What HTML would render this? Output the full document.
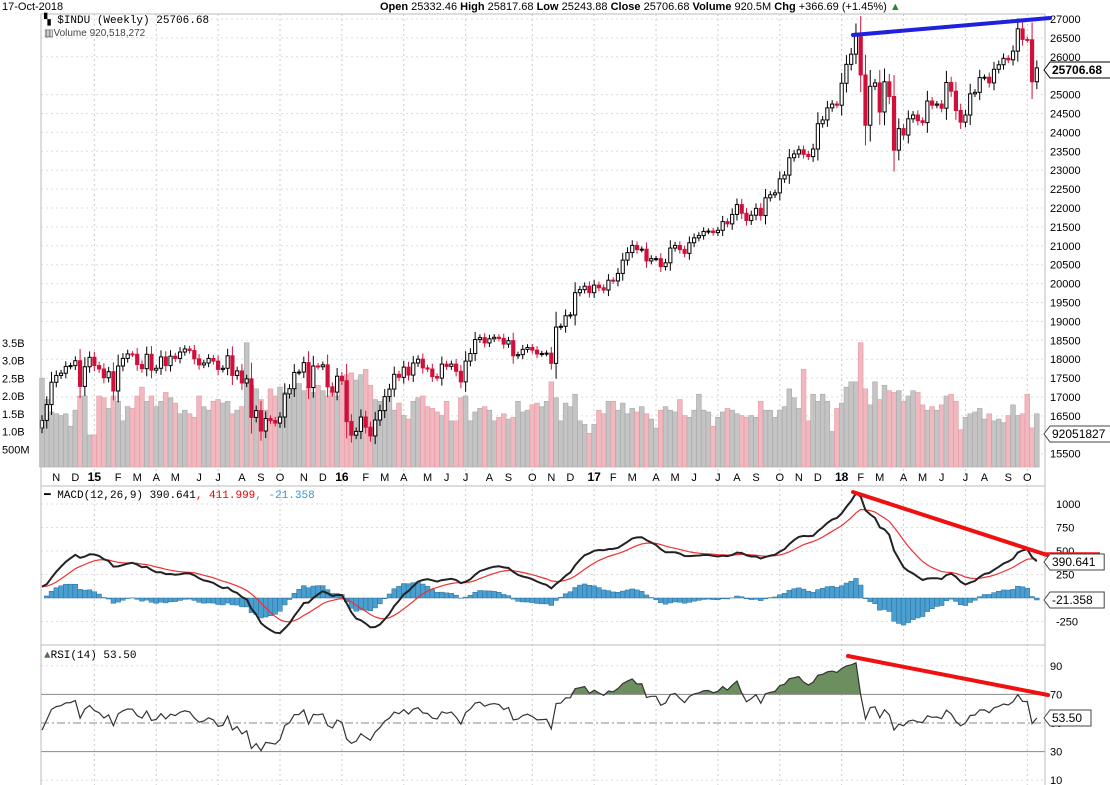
<!DOCTYPE html>
<html><head><meta charset="utf-8"><style>
body{margin:0;background:#fff;}
svg{display:block;font-family:"Liberation Sans",sans-serif;}
</style></head><body>
<svg id="chart" width="1110" height="785" viewBox="0 0 1110 785" xmlns="http://www.w3.org/2000/svg">
<rect x="0" y="0" width="1110" height="785" fill="#fff"/>
<g id="grid"></g>
<g id="vol"></g>
<g id="price"></g>
<g id="macd"></g>
<g id="rsi"></g>
<g id="axes"></g>
<text x="2" y="10" font-size="11" fill="#000">17-Oct-2018</text>
<text x="380" y="10" font-size="11" fill="#000"><tspan font-weight="bold">Open</tspan> 25332.46 <tspan font-weight="bold">High</tspan> 25817.68 <tspan font-weight="bold">Low</tspan> 25243.88 <tspan font-weight="bold">Close</tspan> 25706.68 <tspan font-weight="bold">Volume</tspan> 920.5M <tspan font-weight="bold">Chg</tspan> +366.69 (+1.45%) <tspan fill="#2a8a2a">▲</tspan></text>
<text x="44" y="23" font-size="11" font-family="Liberation Mono,monospace">▚ $INDU (Weekly) 25706.68</text>
<text x="44" y="36" font-size="10" fill="#444">▥Volume 920,518,272</text>
<text x="44" y="498" font-size="11" font-family="Liberation Mono,monospace">━ MACD(12,26,9) 390.641<tspan fill="#e00">, 411.999</tspan><tspan fill="#39c">, -21.358</tspan></text>
<text x="44" y="658" font-size="11" font-family="Liberation Mono,monospace"><tspan fill="#4a7a44">▲</tspan>RSI(14) 53.50</text>
</svg>
<script>
const closes=[16380,16800,17390,17570,17630,17810,17830,17960,17280,17800,18050,17830,17740,17510,17670,17160,17820,18020,18140,18130,17860,17750,18130,17710,17760,18060,17830,18080,18020,18190,18270,18230,18010,17850,17900,18020,17950,17730,17760,18090,17570,17690,17370,17480,16460,16640,16100,16430,16380,16310,16470,17080,17220,17650,17660,17910,17250,17820,17800,17850,17270,17130,17550,17430,16350,15990,16090,16470,16200,15970,16390,16640,17010,17210,17600,17520,17790,17580,17900,18000,17770,17740,17540,17500,17870,17810,17870,17680,17400,17950,18150,18520,18570,18430,18540,18580,18550,18400,18490,18090,18120,18260,18310,18240,18140,18150,18160,17890,18850,18870,19150,19170,19760,19840,19930,19760,19960,19890,19830,20090,20070,20270,20620,20820,21010,20900,20910,20600,20660,20660,20450,20550,20940,21010,20900,20800,21080,21210,21270,21380,21390,21350,21410,21640,21580,21830,22090,21860,21670,21810,21990,21800,22270,22350,22400,22770,22870,23330,23430,23540,23420,23360,23560,24230,24330,24650,24750,24720,25300,25800,26070,26620,25520,24190,25220,25310,24540,25340,24950,23530,24100,23930,24360,24460,24310,24260,24830,24720,24750,24640,25320,25090,24580,24270,24460,25020,25060,25450,25460,25310,25670,25790,25960,25920,26150,26740,26460,26450,25340,25706];
const volumes=[2.5,1.9,1.55,1.5,1.45,1.5,1.15,1.6,2.0,2.0,0.9,0.9,2.0,1.95,1.65,2.0,1.85,1.3,1.7,1.65,2.0,2.25,1.85,2.0,1.7,1.85,2.1,1.95,1.8,1.5,1.6,1.5,1.4,2.0,1.7,1.6,1.85,1.9,1.8,1.85,1.5,1.6,1.7,3.5,2.3,2.2,1.9,1.6,2.2,2.0,2.25,2.1,2.0,2.2,2.35,2.15,2.25,2.1,2.3,2.15,2.0,2.15,2.0,2.5,2.6,2.65,2.45,2.6,2.75,2.3,1.9,1.85,1.9,1.95,1.6,1.8,1.45,1.35,1.85,1.95,2.0,1.7,1.65,1.55,1.45,1.85,1.3,1.3,1.95,2.0,1.3,1.55,1.65,1.7,1.6,1.3,1.4,1.5,1.35,1.4,1.85,1.55,1.6,1.75,1.8,1.7,1.85,2.4,1.95,1.3,1.8,1.7,2.05,1.3,1.2,0.95,1.2,1.6,1.5,1.85,1.85,1.6,1.8,1.5,1.65,1.55,1.7,1.5,1.35,1.1,1.6,1.7,1.6,1.55,1.9,1.45,1.4,1.6,2.05,1.6,1.55,1.15,1.4,1.55,1.65,1.6,1.5,1.45,1.4,1.45,1.4,1.85,1.6,1.6,1.4,1.6,1.7,2.2,1.95,1.65,2.75,1.3,2.05,1.85,2.05,1.85,1.0,1.65,1.8,2.25,2.4,2.4,3.5,2.2,1.75,2.4,1.9,2.3,2.15,2.1,2.15,1.85,2.0,2.15,2.1,1.75,1.6,1.7,1.6,1.75,2.0,2.05,1.85,1.05,1.4,1.5,1.55,1.65,1.35,1.5,1.3,1.35,1.25,1.45,1.75,1.45,1.5,2.05,1.1];
const priceTicks=[27000,26500,26000,25000,24500,24000,23500,23000,22500,22000,21500,21000,20500,20000,19500,19000,18500,18000,17500,17000,16500,16000,15500];
const volTicks=[3.5,3.0,2.5,2.0,1.5,1.0,0.5];
const volTickLabels=["3.5B","3.0B","2.5B","2.0B","1.5B","1.0B","500M"];
const macdTicks=[1000,750,500,250,-250];
const rsiTicks=[90,70,50,30,10];
const monthNames=["J","F","M","A","M","J","J","A","S","O","N","D"];

const NS="http://www.w3.org/2000/svg";
const L=41,R=1045;
const xOf=i=>42+i*4.76;
const yP=p=>19+(27000-p)/500*18.9;
const yV=v=>467-v*35.5;
const yM=m=>598-m*0.094;
const yR=r=>723-(r-50)*1.43;
function mk(tag,attrs,parent){const e=document.createElementNS(NS,tag);for(const k in attrs)e.setAttribute(k,attrs[k]);parent.appendChild(e);return e;}
const grid=document.getElementById('grid'),axes=document.getElementById('axes');
const gV=document.getElementById('vol'),gP=document.getElementById('price'),gM=document.getElementById('macd'),gR=document.getElementById('rsi');

[[14,486],[486,645],[645,786]].forEach(([a,b])=>{const r=mk('rect',{x:L,y:a,width:R-L,height:b-a,fill:'none',stroke:'#bbb','stroke-width':1},axes);});

const start=new Date(2014,9,17);
let prevM=-1;
for(let i=0;i<closes.length;i++){
  const d=new Date(start.getTime()+i*7*864e5);const m=d.getMonth();
  if(m!==prevM&&i>0){
    const x=xOf(i);
    const isJan=m===0;
    const t=mk('text',{x:x,y:481,'font-size':isJan?12:11,'font-weight':isJan?'bold':'normal','text-anchor':'middle',fill:'#000'},axes);
    
    
    t.textContent=isJan?String(d.getFullYear()).slice(2):monthNames[m];
    if(m%3===0){const ln=mk('line',{x1:x,x2:x,y1:14,y2:785,stroke:'#ccc','stroke-dasharray':'2,3'},grid);}
  }
  prevM=m;
}
priceTicks.forEach(p=>{const y=yP(p);
  const ln=mk('line',{x1:L,x2:R,y1:y,y2:y,stroke:'#ddd','stroke-dasharray':'2,3'},grid);
  const t=mk('text',{x:1050,y:y+4,'font-size':11},axes);t.textContent=p;});
volTicks.forEach((v,k)=>{const t=mk('text',{x:2,y:yV(v)+4,'font-size':11},axes);t.textContent=volTickLabels[k];});
macdTicks.forEach(v=>{const y=yM(v);const ln=mk('line',{x1:L,x2:R,y1:y,y2:y,stroke:'#ddd','stroke-dasharray':'2,3'},grid);
  const t=mk('text',{x:1056,y:y+4,'font-size':11},axes);t.textContent=v;});
rsiTicks.forEach(v=>{const y=yR(v);const t=mk('text',{x:1050,y:y+4,'font-size':11},axes);t.textContent=v;
  if(v===90||v===10){const ln=mk('line',{x1:L,x2:R,y1:y,y2:y,stroke:'#ddd','stroke-dasharray':'2,3'},grid);}});

for(let i=0;i<closes.length;i++){
  const c=closes[i],o=i>0?closes[i-1]:c-200;const down=c<o;const x=xOf(i);
  const v=volumes[i]||1.5;
  const vb=mk('rect',{x:x-2.4,y:yV(v),width:4.76,height:467-yV(v),fill:down?'#f2b8bf':'#c4c4c4',stroke:down?'#e39aa4':'#a8a8a8','stroke-width':0.6},gV);
  
  
  const wick=Math.abs(c-o)*0.35+70;
  const hi=Math.max(o,c)+wick,lo=Math.min(o,c)-wick;
  const col=down?'#d0103a':'#000';
  const w=mk('line',{x1:x,x2:x,y1:yP(hi),y2:yP(lo),stroke:col,'stroke-width':1},gP);
  
  
  const top=yP(Math.max(o,c)),bot=yP(Math.min(o,c));
  const b=mk('rect',{x:x-1.6,y:top,width:3.2,height:Math.max(1,bot-top),fill:down?col:'#fff',stroke:col,'stroke-width':1},gP);
  
  
}
function ema(arr,n){const k=2/(n+1);const out=[];let e=arr[0];arr.forEach((v,i)=>{e=i?v*k+e*(1-k):v;out.push(e);});return out;}
const e12=ema(closes,12),e26=ema(closes,26);
const macd=closes.map((c,i)=>e12[i]-e26[i]+120*Math.exp(-i/20));
const sig=ema(macd,9);
for(let i=0;i<closes.length;i++){const h=macd[i]-sig[i];const x=xOf(i);
  const r=mk('rect',{x:x-2.4,y:Math.min(yM(h),yM(0)),width:4.76,height:Math.abs(yM(h)-yM(0)),fill:'#4a9fd0',stroke:'#2a6f9a','stroke-width':0.5},gM);
  
  }
const pathOf=(arr,fy)=>arr.map((v,i)=>(i?'L':'M')+xOf(i).toFixed(1)+','+fy(v).toFixed(1)).join('');
const sl=mk('path',{d:pathOf(sig,yM),fill:'none',stroke:'#f03030','stroke-width':1.2},gM);
const ml=mk('path',{d:pathOf(macd,yM),fill:'none',stroke:'#222','stroke-width':2},gM);
// RSI (Wilder smoothing, seeded)
const rsi=[45];let ag=110,al=130;
for(let i=1;i<closes.length;i++){const d=closes[i]-closes[i-1];const g=Math.max(d,0),l=Math.max(-d,0);
  ag=(ag*13+g)/14;al=(al*13+l)/14;
  rsi.push(100-100/(1+ag/al));}
let fillD='';
for(let i=0;i<rsi.length;i++){fillD+=(i?'L':'M')+xOf(i).toFixed(1)+','+Math.min(yR(rsi[i]),yR(70)).toFixed(1);}
fillD+='L'+xOf(rsi.length-1)+','+yR(70)+'L'+xOf(0)+','+yR(70)+'Z';
const rf=mk('path',{d:fillD,fill:'#6b8f5e',stroke:'none'},gR);
[[70,'none'],[30,'none'],[50,'8,3,2,3']].forEach(([v,da])=>{const ln=mk('line',{x1:L,x2:R,y1:yR(v),y2:yR(v),stroke:'#888','stroke-width':1,'stroke-dasharray':da},gR);});
const rl=mk('path',{d:pathOf(rsi,yR),fill:'none',stroke:'#333','stroke-width':1.2},gR);

const tl=[['#2020e0',853,35,1050,18,'price-trendline'],['#f01010',853,492,1047,555,'macd-trendline'],['#f01010',848,656,1048,695,'rsi-trendline']];
tl.forEach(([c,x1,y1,x2,y2,n])=>{const ln=mk('line',{x1,y1,x2,y2,stroke:c,'stroke-width':4,'stroke-linecap':'round'},axes);});
const rr=mk('line',{x1:1045,x2:1100,y1:553,y2:553,stroke:'#f01010','stroke-width':1.5},axes);
[[70,'25706.68',true],[434,'92051827',false],[562,'390.641',false],[600,'-21.358',false],[718,'53.50',false]].forEach(([y,t,b])=>{
  const w=t.length*6.6+8;
  const p=mk('path',{d:`M1044,${y} L1050,${y-8} L${1050+w},${y-8} L${1050+w},${y+8} L1050,${y+8} Z`,fill:'#fff',stroke:b?'#000':'#444','stroke-width':1},axes);
  
  const tx=mk('text',{x:1052,y:y+4,'font-size':12,'font-weight':b?'bold':'normal'},axes);tx.textContent=t;});
</script>
</body></html>
